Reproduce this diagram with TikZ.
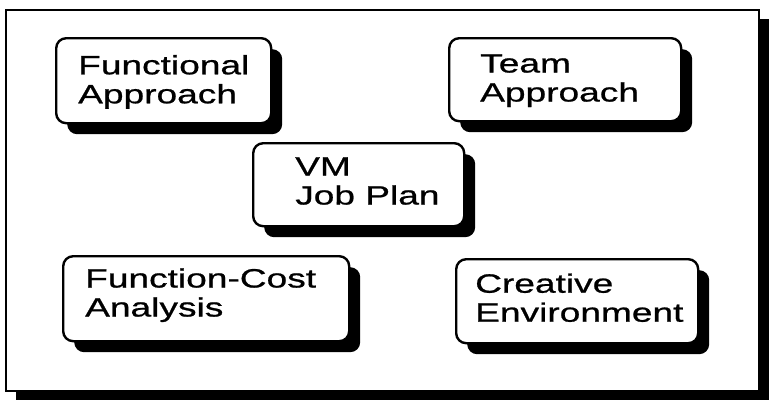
\documentclass[tikz,border=0pt]{standalone}
\usepackage{fontspec}
\setmainfont{Liberation Sans}[FakeStretch=1.4, FakeBold=0.8]
\usetikzlibrary{shadows}
\begin{document}
\begin{tikzpicture}[x=1pt,y=-1pt,
  framestyle/.style={draw=black, line width=1.6pt, fill=white, inner sep=0pt, anchor=north west,
    drop shadow={shadow xshift=10pt, shadow yshift=-9pt, fill=black, opacity=1}},
  boxstyle/.style={draw=black, line width=2.4pt, rounded corners=10pt, fill=white, inner sep=0pt, anchor=north west,
    drop shadow={shadow xshift=11pt, shadow yshift=-11pt, fill=black, opacity=1}},
  labelstyle/.style={anchor=base west, align=left, inner sep=0pt,
    font=\fontsize{26.5pt}{29pt}\selectfont}]
\useasboundingbox (0,0) rectangle (778,408);
\node[framestyle, minimum width=753pt, minimum height=381pt] (frame) at (5,9) {};
% boxes
\node[boxstyle, minimum width=215pt, minimum height=85pt] (fa) at (55,37) {};
\node[boxstyle, minimum width=232pt, minimum height=83pt] (ta) at (448,37) {};
\node[boxstyle, minimum width=211pt, minimum height=83pt] (vm) at (252,142) {};
\node[boxstyle, minimum width=286pt, minimum height=85pt] (fc) at (62,255) {};
\node[boxstyle, minimum width=242pt, minimum height=84pt] (ce) at (455,258) {};
% texts (anchor = baseline of the last line)
\node[labelstyle] (fa-t) at (78,103.3) {Functional\\Approach};
\node[labelstyle] (ta-t) at (480,101.5) {Team\\Approach};
\node[labelstyle] (vm-t) at (295,204.5) {VM\\Job Plan};
\node[labelstyle] (fc-t) at (85,316.5) {Function-Cost\\Analysis};
\node[labelstyle] (ce-t) at (475,321.7) {Creative\\Environment};
\end{tikzpicture}
\end{document}
